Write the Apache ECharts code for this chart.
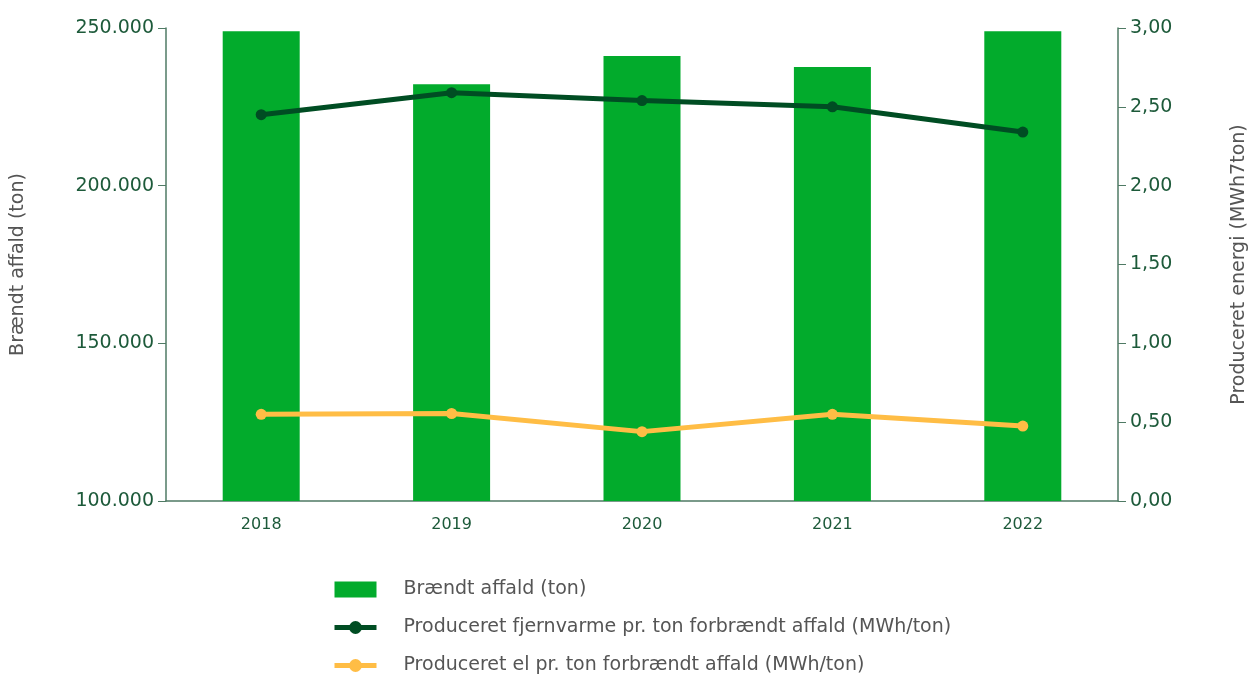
<!DOCTYPE html>
<html>
<head>
<meta charset="utf-8">
<script src="https://cdn.jsdelivr.net/npm/echarts@6/dist/echarts.min.js"></script>
<style>
  html, body { margin: 0; padding: 0; background: #fff; }
  #chart { width: 1257px; height: 675px; }
</style>
</head>
<body>
<div id="chart"></div>
<script>
const years = ['2018', '2019', '2020', '2021', '2022']
const braendtAffald = [249000, 232200, 241100, 237600, 249000]
const fjernvarme = [2.45, 2.59, 2.54, 2.50, 2.34]
const el = [0.55, 0.555, 0.44, 0.55, 0.475]

const axisColor = '#4f7a64'
const labelColor = '#1d5a3a'
const fontFamily = '"DejaVu Sans", sans-serif'

const chart = echarts.init(document.getElementById('chart'))

// tal med dansk formatering
const fmtTon = v => Math.round(v).toString().replace(/\B(?=(\d{3})+(?!\d))/g, '.')
const fmtMwh = v => v.toFixed(2).replace('.', ',')

const option = {
  animation: false,
  textStyle: { fontFamily },
  grid: { left: 166, right: 125, top: 28, bottom: 174 },
  legend: {
    orient: 'vertical',
    left: 332,
    top: 580,
    height: 100,
    padding: 0,
    itemWidth: 42,
    itemHeight: 16,
    itemGap: 19,
    textStyle: { fontSize: 19, color: '#555', padding: [0, 0, 0, 22] },
    data: [
      { name: 'Brændt affald (ton)', icon: 'rect' },
      {
        name: 'Produceret fjernvarme pr. ton forbrændt affald (MWh/ton)',
        lineStyle: { width: 5 }
      },
      {
        name: 'Produceret el pr. ton forbrændt affald (MWh/ton)',
        lineStyle: { width: 5 }
      }
    ]
  },
  xAxis: {
    type: 'category',
    data: years,
    axisLine: { lineStyle: { color: axisColor, width: 1.5 } },
    axisTick: { show: false },
    axisLabel: { color: labelColor, fontSize: 16, margin: 16 }
  },
  yAxis: [
    {
      type: 'value',
      min: 100000,
      max: 250000,
      interval: 50000,
      name: 'Brændt affald (ton)',
      nameLocation: 'middle',
      nameGap: 138,
      nameTextStyle: { fontSize: 19, color: '#555' },
      axisLine: { show: true, lineStyle: { color: axisColor, width: 1.5 } },
      axisTick: { show: true, length: 8, lineStyle: { color: axisColor } },
      axisLabel: { color: labelColor, fontSize: 19, margin: 12, formatter: fmtTon },
      splitLine: { show: false }
    },
    {
      type: 'value',
      min: 0,
      max: 3,
      interval: 0.5,
      name: 'Produceret energi (MWh7ton)',
      nameLocation: 'middle',
      nameGap: 112,
      nameTextStyle: { fontSize: 19, color: '#555' },
      axisLine: { show: true, lineStyle: { color: axisColor, width: 1.5 } },
      axisTick: { show: true, length: 8, lineStyle: { color: axisColor } },
      axisLabel: { color: labelColor, fontSize: 19, margin: 12, formatter: fmtMwh },
      splitLine: { show: false }
    }
  ],
  series: [
    {
      name: 'Brændt affald (ton)',
      type: 'bar',
      data: braendtAffald,
      barWidth: 77,
      itemStyle: { color: '#02ab2c' }
    },
    {
      name: 'Produceret fjernvarme pr. ton forbrændt affald (MWh/ton)',
      type: 'line',
      yAxisIndex: 1,
      data: fjernvarme,
      symbol: 'circle',
      symbolSize: 11,
      lineStyle: { color: '#004d23', width: 5 },
      itemStyle: { color: '#004d23' }
    },
    {
      name: 'Produceret el pr. ton forbrændt affald (MWh/ton)',
      type: 'line',
      yAxisIndex: 1,
      data: el,
      symbol: 'circle',
      symbolSize: 11,
      lineStyle: { color: '#ffbd45', width: 5 },
      itemStyle: { color: '#ffbd45' }
    }
  ]
}

chart.setOption(option)
window.addEventListener('resize', () => {
  chart?.resize()
})
</script>
</body>
</html>
